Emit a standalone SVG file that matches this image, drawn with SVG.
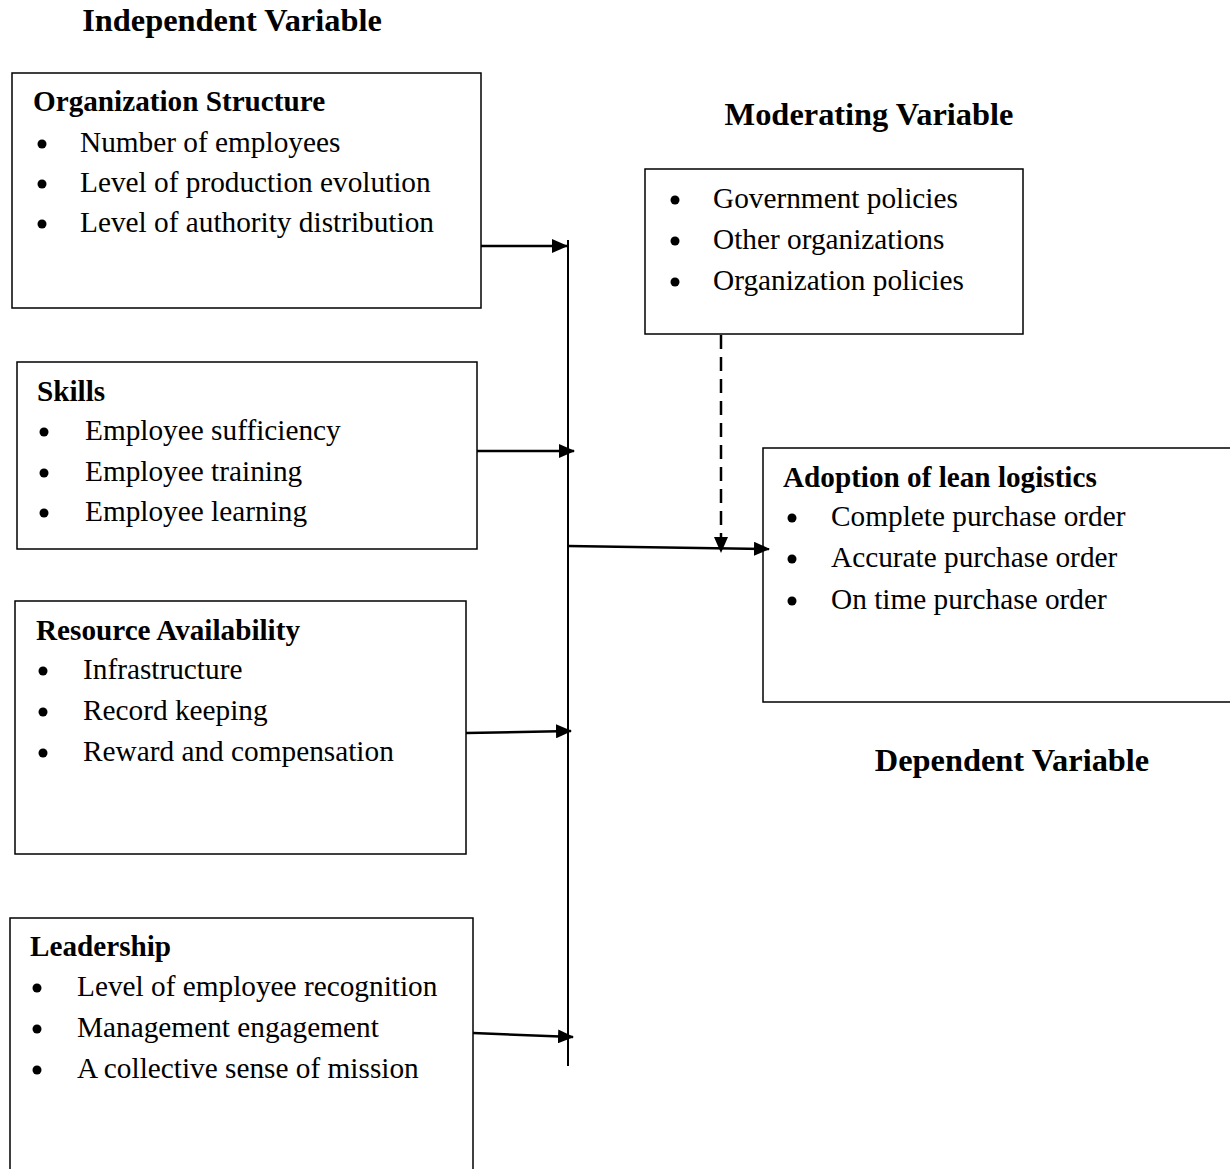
<svg xmlns="http://www.w3.org/2000/svg" width="1230" height="1169" viewBox="0 0 1230 1169">
<defs>
<style>
text{font-family:"Liberation Serif","Times New Roman",serif;font-size:29.3px;fill:#000}
.h{font-weight:bold;font-size:29.2px}
.t{font-weight:bold;font-size:32.4px}
.box{fill:#fff;stroke:#000;stroke-width:1.5}
.c{stroke:#000;stroke-width:2.5;fill:none}
.b{fill:#000}
</style>
<marker id="ah2" markerWidth="16" markerHeight="14" refX="15" refY="7" orient="auto" markerUnits="userSpaceOnUse" viewBox="0 0 16 14">
<path d="M0,0 L16,7 L0,14 z" fill="#000"/>
</marker>
</defs>
<text class="t" x="232" y="31" text-anchor="middle">Independent Variable</text>
<text class="t" x="869" y="125" text-anchor="middle">Moderating Variable</text>
<text class="t" x="1012" y="771" text-anchor="middle">Dependent Variable</text>

<g id="org">
<rect class="box" x="12" y="73" width="469" height="235"/>
<text class="h" x="33" y="111">Organization Structure</text>
<circle class="b" cx="42" cy="144" r="4.5"/><text x="80" y="152">Number of employees</text>
<circle class="b" cx="42" cy="184" r="4.5"/><text x="80" y="192">Level of production evolution</text>
<circle class="b" cx="42" cy="224" r="4.5"/><text x="80" y="232">Level of authority distribution</text>
</g>
<g id="skills">
<rect class="box" x="17" y="362" width="460" height="187"/>
<text class="h" x="37" y="401">Skills</text>
<circle class="b" cx="44" cy="432" r="4.5"/><text x="85" y="440">Employee sufficiency</text>
<circle class="b" cx="44" cy="473" r="4.5"/><text x="85" y="481">Employee training</text>
<circle class="b" cx="44" cy="513" r="4.5"/><text x="85" y="521">Employee learning</text>
</g>
<g id="resource">
<rect class="box" x="15" y="601" width="451" height="253"/>
<text class="h" x="36" y="640">Resource Availability</text>
<circle class="b" cx="43" cy="671" r="4.5"/><text x="83" y="679">Infrastructure</text>
<circle class="b" cx="43" cy="712" r="4.5"/><text x="83" y="720">Record keeping</text>
<circle class="b" cx="43" cy="753" r="4.5"/><text x="83" y="761">Reward and compensation</text>
</g>
<g id="leadership">
<rect class="box" x="10" y="918" width="463" height="270"/>
<text class="h" x="30" y="956">Leadership</text>
<circle class="b" cx="37" cy="988" r="4.5"/><text x="77" y="996">Level of employee recognition</text>
<circle class="b" cx="37" cy="1029" r="4.5"/><text x="77" y="1037">Management engagement</text>
<circle class="b" cx="37" cy="1070" r="4.5"/><text x="77" y="1078">A collective sense of mission</text>
</g>
<g id="moderating">
<rect class="box" x="645" y="169" width="378" height="165"/>
<circle class="b" cx="675" cy="200" r="4.5"/><text x="713" y="208">Government policies</text>
<circle class="b" cx="675" cy="241" r="4.5"/><text x="713" y="249">Other organizations</text>
<circle class="b" cx="675" cy="282" r="4.5"/><text x="713" y="290">Organization policies</text>
</g>
<g id="adoption">
<rect class="box" x="763" y="448" width="480" height="254"/>
<text class="h" x="783" y="487">Adoption of lean logistics</text>
<circle class="b" cx="792" cy="518" r="4.5"/><text x="831" y="526">Complete purchase order</text>
<circle class="b" cx="792" cy="559" r="4.5"/><text x="831" y="567">Accurate purchase order</text>
<circle class="b" cx="792" cy="601" r="4.5"/><text x="831" y="609">On time purchase order</text>
</g>

<g id="connectors">
<line class="c" x1="568" y1="240" x2="568" y2="1066" style="stroke-width:2"/>
<line class="c" x1="481" y1="246" x2="567" y2="246" marker-end="url(#ah2)"/>
<line class="c" x1="477" y1="451" x2="574" y2="451" marker-end="url(#ah2)"/>
<line class="c" x1="466" y1="733" x2="571" y2="731" marker-end="url(#ah2)"/>
<line class="c" x1="473" y1="1033" x2="573" y2="1037" marker-end="url(#ah2)"/>
<line class="c" x1="568" y1="546" x2="769" y2="549" marker-end="url(#ah2)"/>
<line class="c" x1="721" y1="335" x2="721" y2="552" stroke-dasharray="14,8" marker-end="url(#ah2)"/>
</g>
</svg>
